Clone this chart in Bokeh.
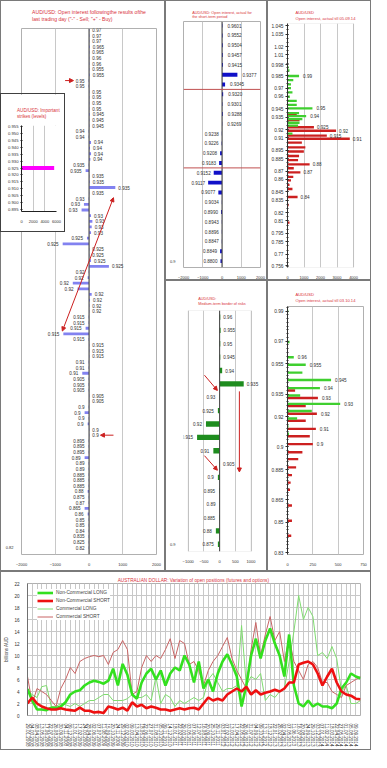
from bokeh.plotting import figure
from bokeh.layouts import column, row
from bokeh.models import (Range1d, FixedTicker, Span, Arrow, NormalHead, Legend, LegendItem,
                          BoxAnnotation)
from bokeh.core.properties import value
from bokeh.embed import file_html
from bokeh.resources import INLINE

# ---------------- data ----------------
# Left: open interest following the last trading day
left_strikes = ["0.97", "0.97", "0.97", "0.965", "0.965", "0.96", "0.96", "0.955", "0.955",
                "0.95", "0.95", "0.95", "0.95", "0.95", "0.95",
                "0.945", "0.945", "0.945",
                "0.94", "0.94", "0.94", "0.94", "0.94", "0.94",
                "0.935", "0.935", "0.935", "0.935", "0.935", "0.935",
                "0.93", "0.93", "0.93", "0.93", "0.93", "0.93", "0.93",
                "0.925", "0.925", "0.925", "0.925", "0.925", "0.925",
                "0.92", "0.92", "0.92", "0.92", "0.92", "0.92", "0.92", "0.92",
                "0.915", "0.915", "0.915", "0.915", "0.915", "0.915", "0.915", "0.915",
                "0.91", "0.91", "0.91",
                "0.905", "0.905", "0.905", "0.905", "0.905",
                "0.9", "0.9", "0.9", "0.9", "0.9", "0.9",
                "0.895", "0.895", "0.895", "0.89", "0.89", "0.89", "0.885", "0.885", "0.885",
                "0.88", "0.875", "0.87", "0.865", "0.86", "0.85", "0.85", "0.84", "0.835", "0.825", "0.82"]
left_oi = [10, 10, 10, 20, 10, 10, 10, 10, 20,
           -10, -10, 10, 10, 10, 10,
           20, 10, 10,
           -10, -10, 60, 30, 60, 40,
           -10, -100, 10, 20, 780, 10,
           -10, -150, -220, 60, 100, 80, 60,
           -60, -780, 10, 10, 60, 590,
           -10, -40, -480, -340, 80, 30, 10, 10,
           -10, -10, -100, -760, -10, 10, 10, 10,
           -10, -10, -200,
           -10, -10, -10, 10, 10,
           -10, -130, -10, -40, 10, 10,
           -10, -10, -10, -130, -10, -10, -10, -10, -10,
           -40, -10, -10, -130, -40, -10, -10, -10, -10, -10, -10]
left_x_ticks = [-2000, -1000, 0, 1000, 2000]
left_y_tick_label = "0.82"
# arrows: (x_start, y_start, x_end, y_end, double)
left_arrows = [(-790, 53.5, 725, 29.8, True), (-708, 9, -460, 9, False), (725, 72, 339, 72, False)]

# Inset: important strikes
inset_levels = [0.925]
inset_oi = [5600]
inset_y_ticks = [0.955, 0.950, 0.945, 0.940, 0.935, 0.930, 0.925, 0.920, 0.915, 0.910, 0.905, 0.900, 0.895]
inset_x_ticks = [0, 2000, 4000, 6000]

# Middle top: short-term period
mt_strikes = ["0.9601", "0.9552", "0.9504", "0.9457", "0.9415", "0.9377", "0.9345", "0.9320", "0.9301",
              "0.9288", "0.9269", "0.9238", "0.9226", "0.9208", "0.9183", "0.9152", "0.9117", "0.9077",
              "0.9034", "0.8990", "0.8943", "0.8896", "0.8847", "0.8849", "0.8800"]
mt_oi = [20, 30, 40, 40, 50, 800, 160, 60, 20, 40, 10, -10, -20, -100, -150, -430, -720, -190,
         -10, -50, -10, -10, -10, -100, -80]
mt_x_ticks = [-2000, -1000, 0, 1000, 2000]
mt_borders = [6.5, 14.5]

# Middle bottom: medium-term border of risks
mb_strikes = ["0.96", "0.955", "0.95", "0.945", "0.94", "0.935", "0.93", "0.925", "0.92", "0.915",
              "0.91", "0.905", "0.9", "0.895", "0.89", "0.885", "0.88", "0.875"]
mb_oi = [20, 30, 20, 20, 80, 766, -10, -56, -435, -718, -200, 10, -56, -15, -5, -15, -120, -56]
mb_x_ticks = [-1000, -500, 0, 500, 1000]
mb_arrows = [(-483, 4.35, -72, 5.49), (-483, 10.37, -72, 11.46), (628, 5.56, 628, 11.59)]

# Right top: open interest till 05.09.14
rt_call_level = [0.9949, 0.9911, 0.9845, 0.9795, 0.9745, 0.9699, 0.9649, 0.9595, 0.9545, 0.9498,
                 0.9456, 0.9398, 0.9363, 0.9325, 0.9282, 0.9248, 0.9151]
rt_call_oi = [70, 120, 700, 350, 210, 210, 300, 140, 560, 560, 1510, 700, 1130, 900, 730, 640, 300]
rt_call_text = {2: "0.99", 10: "0.95", 12: "0.94"}
rt_put_level = [0.9383, 0.9313, 0.9228, 0.9186, 0.9128, 0.9090, 0.9043, 0.8986, 0.8936, 0.8882,
                0.8832, 0.8782, 0.8735, 0.8685, 0.8631, 0.8589, 0.8535, 0.8485, 0.8389, 0.8292, 0.8080]
rt_put_oi = [560, 730, 1600, 2940, 2380, 3770, 870, 1080, 990, 700, 640, 1340, 380, 780, 350, 210,
             120, 300, 610, 70, 120]
rt_put_text = {2: "0.925", 3: "0.92", 4: "0.915", 5: "0.91", 11: "0.88", 13: "0.87", 18: "0.84"}
rt_y_ticks = [1.045, 1.035, 1.02, 1.01, 0.998, 0.985, 0.97, 0.96, 0.945, 0.935, 0.92, 0.91, 0.895,
              0.885, 0.87, 0.86, 0.845, 0.835, 0.82, 0.81, 0.795, 0.785, 0.77, 0.756]
rt_x_ticks = [0, 1000, 2000, 3000, 4000]

# Right bottom: open interest till 03.10.14
rb_call_level = [0.9900, 0.9695, 0.9594, 0.9544, 0.9492, 0.9443, 0.9389, 0.9340, 0.9285, 0.9238,
                 0.9188, 0.9136, 0.9087]
rb_call_oi = [8, 20, 62, 180, 147, 430, 320, 125, 520, 240, 95, 10, 15]
rb_call_text = {2: "0.96", 3: "0.955", 5: "0.945", 6: "0.94", 8: "0.93"}
rb_put_level = [0.9374, 0.9324, 0.9270, 0.9220, 0.9173, 0.9119, 0.9070, 0.9018, 0.8964, 0.8919,
                0.8864, 0.8813, 0.8763, 0.8716, 0.8612, 0.8511, 0.8411]
rb_put_oi = [75, 300, 180, 290, 180, 280, 220, 250, 147, 106, 85, 44, 31, 25, 44, 44, 37]
rb_put_text = {1: "0.93", 3: "0.92", 5: "0.91", 7: "0.9"}
rb_y_ticks = [0.99, 0.97, 0.955, 0.935, 0.92, 0.9, 0.885, 0.865, 0.85, 0.83]
rb_x_ticks = [0, 250, 500, 750]

# Bottom: variation of open positions (billions AUD)
dates = ["29.01.2008", "04.03.2008", "08.04.2008", "13.05.2008", "17.06.2008", "22.07.2008",
         "26.08.2008", "30.09.2008", "04.11.2008", "09.12.2008", "13.01.2009", "17.02.2009",
         "24.03.2009", "28.04.2009", "02.06.2009", "07.07.2009", "11.08.2009", "15.09.2009",
         "20.10.2009", "24.11.2009", "29.12.2009", "02.02.2010", "09.03.2010", "13.04.2010",
         "18.05.2010", "22.06.2010", "27.07.2010", "31.08.2010", "05.10.2010", "09.11.2010",
         "14.12.2010", "18.01.2011", "22.02.2011", "29.03.2011", "03.05.2011", "07.06.2011",
         "12.07.2011", "16.08.2011", "20.09.2011", "25.10.2011", "29.11.2011", "03.01.2012",
         "07.02.2012", "13.03.2012", "17.04.2012", "22.05.2012", "26.06.2012", "31.07.2012",
         "04.09.2012", "09.10.2012", "13.11.2012", "18.12.2012", "22.01.2013", "26.02.2013",
         "02.04.2013", "07.05.2013", "11.06.2013", "16.07.2013", "20.08.2013", "24.09.2013",
         "29.10.2013", "03.12.2013", "07.01.2014", "11.02.2014", "18.03.2014", "22.04.2014",
         "27.05.2014", "01.07.2014", "05.08.2014", "09.09.2014"]
week_pos = list(range(71))
nc_long = [4.4, 2.5, 1.0, 1.0, 0.9, 1.3, 1.2, 1.5, 2.2, 3.5, 4.0, 4.2, 5.0, 5.5, 5.8, 5.6, 5.3, 5.8,
           7.8, 5.0, 8.6, 6.8, 3.5, 2.8, 5.5, 7.0, 7.8, 6.0, 7.5, 5.0, 7.0, 8.0, 7.5, 10.0, 8.5, 5.5,
           9.0, 4.5, 6.0, 4.0, 7.0, 9.0, 10.2, 8.5, 6.5, 1.5, 5.0, 10.0, 12.8, 9.5, 12.5, 14.5, 12.0,
           10.0, 6.5, 13.5, 5.0, 2.0, 1.5, 2.5, 1.5, 2.0, 1.5, 1.5, 1.2, 2.0, 4.5, 5.5, 7.0, 6.5, 6.2]
nc_short = [2.0, 3.0, 2.0, 1.5, 1.2, 1.0, 1.0, 1.2, 1.0, 0.9, 0.8, 1.3, 0.8, 0.8, 0.5, 0.6, 0.4, 1.5,
            1.3, 1.0, 1.3, 0.8, 2.2, 1.5, 1.8, 1.2, 1.5, 1.3, 1.0, 1.0, 0.8, 1.0, 1.2, 1.0, 1.2, 1.3,
            1.0, 2.0, 3.0, 2.5, 2.8, 2.5, 3.5, 4.0, 4.5, 4.0, 4.8, 3.5, 4.2, 3.5, 3.8, 4.0, 4.3, 4.0,
            4.5, 5.5, 5.5, 8.5, 8.8, 9.0, 8.5, 7.0, 5.0, 6.5, 7.8, 5.5, 4.0, 3.5, 3.3, 2.8, 2.7]
c_long = [4.0, 3.5, 3.0, 4.8, 5.0, 1.5, 1.5, 2.0, 1.8, 1.5, 2.0, 1.5, 2.0, 2.5, 2.5, 3.0, 3.5, 3.5,
          2.5, 2.5, 2.5, 2.8, 3.5, 3.0, 3.0, 3.5, 2.5, 6.5, 2.0, 3.5, 3.0, 1.5, 2.5, 2.0, 2.5, 3.0,
          2.5, 3.0, 6.0, 7.0, 5.5, 4.0, 4.5, 4.5, 5.0, 15.0, 5.0, 6.5, 6.0, 7.0, 2.5, 3.5, 3.0, 4.0,
          4.5, 9.0, 14.0, 20.0, 16.0, 18.0, 16.5, 10.0, 10.5, 9.5, 11.5, 9.5, 4.0, 5.0, 2.0, 2.0, 2.5]
c_short = [6.5, 2.0, 4.5, 4.0, 3.5, 2.5, 1.5, 4.5, 6.0, 8.0, 7.0, 9.0, 9.5, 9.8, 10.0, 9.8, 10.0, 8.5,
           10.5, 11.0, 12.5, 11.0, 3.5, 4.0, 8.0, 10.0, 9.0, 10.0, 9.5, 11.0, 12.8, 9.5, 12.5, 12.0,
           8.5, 9.0, 7.5, 5.0, 7.5, 9.0, 10.0, 11.5, 13.0, 9.5, 7.5, 6.0, 4.5, 11.0, 15.5, 10.0, 13.5,
           16.5, 12.5, 14.0, 9.0, 13.0, 9.0, 7.5, 6.0, 8.5, 9.0, 8.0, 5.5, 5.5, 4.0, 3.5, 3.0, 5.0,
           5.5, 6.0, 6.5]
bottom_y_ticks = [0, 2, 4, 6, 8, 10, 12, 14, 16, 18, 20, 22]

# ---------------- style ----------------
SX = 371 / 387
SY = 750 / 768


def sx(v):
    return int(round(v * SX))


def sy(v):
    return int(round(v * SY))


FONT = "Liberation Sans"
TITLE_RED = "#d8323a"
TXT = "#303030"
GRID = "#c8c8c8"
FRAME = "#b0b0b0"
RED = "#cc2020"
GREEN = "#3fcf2f"


def make_fig(w, h, xr, yr, bl, br, bt, bb, title=None, tsize="4px", tstand=4, toff=0,
             border="1px solid #7a7a7a"):
    p = figure(width=w, height=h, x_range=xr, y_range=yr, output_backend="svg",
               toolbar_location=None, min_border_left=bl, min_border_right=br,
               min_border_top=bt, min_border_bottom=bb)
    p.outline_line_color = FRAME
    p.border_fill_color = "white"
    p.background_fill_color = "white"
    p.styles = {"border": border, "box-sizing": "border-box"}
    if title:
        p.title.text = title
        p.title.align = "center"
        p.title.text_font = FONT
        p.title.text_font_size = tsize
        p.title.text_font_style = "normal"
        p.title.text_color = TITLE_RED
        p.title.standoff = tstand
        p.title.offset = toff
        p.title.text_line_height = 1.2
    for ax in p.axis:
        ax.axis_line_color = None
        ax.major_tick_line_color = None
        ax.minor_tick_line_color = None
        ax.major_label_text_font = FONT
        ax.major_label_text_font_size = "4px"
        ax.major_label_text_color = TXT
        ax.major_label_standoff = 2
    p.xgrid.grid_line_color = GRID
    p.ygrid.grid_line_color = None
    return p


def frame_box(p, x0, x1):
    # visible plot-area border at the axis limits (frame itself is a little wider)
    p.outline_line_color = None
    p.add_layout(BoxAnnotation(left=x0, right=x1, fill_color=None, fill_alpha=0,
                               line_color=FRAME, line_width=1, level="underlay"))


def bar_labels(p, ys, vals, texts, pos_off, neg_off, size="4.6px"):
    pi = [i for i, v in enumerate(vals) if v >= 0]
    ni = [i for i, v in enumerate(vals) if v < 0]
    for idx, off, al in ((pi, pos_off, "left"), (ni, neg_off, "right")):
        if not idx:
            continue
        p.text(x=[vals[i] for i in idx], y=[ys[i] for i in idx], text=[texts[i] for i in idx],
               x_offset=off, text_align=al, text_baseline="middle", text_font=value(FONT),
               text_font_size=size, text_color=TXT)


def red_arrow(p, x0, y0, x1, y1, double=False):
    head = dict(size=4, fill_color=RED, line_color=RED, line_width=1)
    p.add_layout(Arrow(end=NormalHead(**head), start=NormalHead(**head) if double else None,
                       x_start=x0, y_start=y0, x_end=x1, y_end=y1, line_color=RED, line_width=1))


TOP_H = 571
BOT_H = 179
LW, MW, RW = 165, 102, 104
MT_H = sy(287)
MB_H = TOP_H - MT_H

# ---------------- left big chart ----------------
n_left = len(left_oi)
left_idx = list(range(n_left))
left = make_fig(LW, TOP_H, Range1d(-2000, 2000), Range1d(n_left + 0.2, -0.25),
                sx(18), sx(9), sy(28), sy(18),
                title='AUD/USD: Open interest followingthe results ofthe\nlast trading day ("-" - Sell; "+" - Buy)',
                tsize="5.1px", tstand=sy(12), toff=-sx(17))
left.xaxis.ticker = FixedTicker(ticks=left_x_ticks)
left.xgrid.ticker = FixedTicker(ticks=left_x_ticks)
left.yaxis.ticker = FixedTicker(ticks=[n_left - 1])
left.yaxis.major_label_overrides = {n_left - 1: left_y_tick_label}
left.hbar(y=left_idx, left=0, right=left_oi, height=0.5, fill_color="#8282f0", line_color=None)
left.add_layout(Span(location=0, dimension="height", line_color="#404040", line_width=1))
bar_labels(left, left_idx, left_oi, left_strikes, 3, -4)
for a in left_arrows:
    red_arrow(left, a[0], a[1], a[2], a[3], a[4])

# ---------------- inset ----------------
IW, IH = sx(68), sy(142)
inset = make_fig(IW, IH, Range1d(0, 6000), Range1d(0.8936, 0.9557), sx(20.7), sx(10.7), sy(32), sy(23),
                 title="AUD/USD:  Important\nstrikes (levels)", tsize="4.6px", tstand=sy(14),
                 toff=-sx(4), border="1px solid #404040")
inset.outline_line_color = None
inset.xaxis.ticker = FixedTicker(ticks=inset_x_ticks)
inset.xgrid.ticker = FixedTicker(ticks=inset_x_ticks)
inset.yaxis.ticker = FixedTicker(ticks=inset_y_ticks)
inset.yaxis.major_label_overrides = {t: "%.3f" % t for t in inset_y_ticks}
inset.yaxis.major_label_text_font_size = "4.2px"
inset.yaxis.axis_line_color = "#202020"
inset.xaxis.axis_line_color = "#202020"
inset.yaxis.major_tick_line_color = "#202020"
inset.yaxis.major_tick_out = 1
inset.yaxis.major_tick_in = 1
inset.hbar(y=inset_levels, left=0, right=inset_oi, height=0.0028, fill_color="#ff00ff", line_color=None)
top_off = sy(95)
inset.margin = (-(TOP_H - top_off), 0, TOP_H - top_off - IH, 0)

# ---------------- middle top ----------------
n_mt = len(mt_oi)
mt_idx = list(range(n_mt))
mt = make_fig(MW, MT_H, Range1d(-2000, 2000), Range1d(n_mt - 0.35, -0.42), sx(14.7), sx(8), sy(20), sy(12),
              title="AUD/USD: Open interest, actual for\nthe short-term period", tsize="3.8px",
              tstand=sy(4), toff=-sx(4))
mt.xaxis.ticker = FixedTicker(ticks=mt_x_ticks)
mt.xgrid.ticker = FixedTicker(ticks=mt_x_ticks)
mt.yaxis.ticker = FixedTicker(ticks=[n_mt - 1])
mt.yaxis.major_label_overrides = {n_mt - 1: "0.9"}
mt.hbar(y=mt_idx, left=0, right=mt_oi, height=0.4, fill_color="#1010c8", line_color=None)
mt.add_layout(Span(location=0, dimension="height", line_color="#404040", line_width=1))
for b in mt_borders:
    mt.add_layout(Span(location=b, dimension="width", line_color="#c05050", line_width=1))
bar_labels(mt, mt_idx, mt_oi, mt_strikes, 5, -3)

# ---------------- middle bottom ----------------
n_mb = len(mb_oi)
mb_idx = list(range(n_mb))
mb = make_fig(MW, MB_H, Range1d(-1150, 1300), Range1d(n_mb - 0.46, -0.49), 9, 0, sy(29.7), sy(22),
              title="AUD/USD:\nMedium-term border of risks", tsize="3.8px", tstand=sy(9), toff=sx(2))
frame_box(mb, -1000, 1000)
mb.xaxis.ticker = FixedTicker(ticks=mb_x_ticks)
mb.xgrid.ticker = FixedTicker(ticks=mb_x_ticks)
mb.yaxis.ticker = FixedTicker(ticks=[n_mb - 1])
mb.yaxis.major_label_overrides = {n_mb - 1: "0.9"}
mb.hbar(y=mb_idx, left=0, right=mb_oi, height=0.4, fill_color="#1e8c1e", line_color=None)
mb.add_layout(Span(location=0, dimension="height", line_color="#404040", line_width=1))
bar_labels(mb, mb_idx, mb_oi, mb_strikes, 3, -4)
for a in mb_arrows:
    red_arrow(mb, a[0], a[1], a[2], a[3])


# ---------------- right charts ----------------
def right_fig(h, xr, yr, bl, br, bt, bb, title, tstand, toff, yticks, minor):
    p = make_fig(RW, h, xr, yr, bl, br, bt, bb, title=title, tsize="4.1px", tstand=tstand, toff=toff)
    p.yaxis.ticker = FixedTicker(ticks=yticks, minor_ticks=minor)
    p.yaxis.major_label_overrides = {t: ("%g" % t) for t in yticks}
    p.yaxis.major_label_text_font_size = "4.8px"
    p.yaxis.axis_line_color = "#303030"
    p.yaxis.major_tick_line_color = "#303030"
    p.yaxis.minor_tick_line_color = "#303030"
    p.yaxis.major_tick_in = 1
    p.yaxis.major_tick_out = 2
    p.yaxis.minor_tick_in = 1
    p.yaxis.minor_tick_out = 1
    return p


rt_minor = [0.755 + 0.005 * k for k in range(59)]
rt = right_fig(MT_H, Range1d(0, 4600), Range1d(0.754, 1.0477), sx(19.7), 0, sy(22.7), sy(10.3),
               "AUD/USD\nOpen interest, actual till 05.09.14", sy(6), -sx(1.5), rt_y_ticks, rt_minor)
frame_box(rt, 0, 4000)
rt.xaxis.ticker = FixedTicker(ticks=rt_x_ticks)
rt.xgrid.ticker = FixedTicker(ticks=rt_x_ticks)
rt.hbar(y=rt_put_level, left=0, right=rt_put_oi, height=0.0028, fill_color=RED, line_color=None)
rt.hbar(y=rt_call_level, left=0, right=rt_call_oi, height=0.0028, fill_color=GREEN, line_color=None)
bar_labels(rt, [rt_call_level[i] for i in rt_call_text], [rt_call_oi[i] for i in rt_call_text],
           list(rt_call_text.values()), 4, -4)
bar_labels(rt, [rt_put_level[i] for i in rt_put_text], [rt_put_oi[i] for i in rt_put_text],
           list(rt_put_text.values()), 3, -4)

rb_minor = [0.83 + 0.0025 * k for k in range(66)]
rb = right_fig(MB_H, Range1d(0, 750), Range1d(0.8287, 0.993), sx(19.7), sx(9.5), sy(26), sy(18),
               "AUD/USD\nOpen interest, actual till 03.10.14", sy(7), sx(3), rb_y_ticks, rb_minor)
rb.xaxis.ticker = FixedTicker(ticks=rb_x_ticks)
rb.xgrid.ticker = FixedTicker(ticks=rb_x_ticks)
rb.hbar(y=rb_put_level, left=0, right=rb_put_oi, height=0.0016, fill_color=RED, line_color=None)
rb.hbar(y=rb_call_level, left=0, right=rb_call_oi, height=0.0016, fill_color=GREEN, line_color=None)
bar_labels(rb, [rb_call_level[i] for i in rb_call_text], [rb_call_oi[i] for i in rb_call_text],
           list(rb_call_text.values()), 4, -4)
bar_labels(rb, [rb_put_level[i] for i in rb_put_text], [rb_put_oi[i] for i in rb_put_text],
           list(rb_put_text.values()), 4, -4)

# ---------------- bottom line chart ----------------
bot = make_fig(371, BOT_H, Range1d(0, 70), Range1d(0, 22), sx(20.7), sx(12), sy(11.7), BOT_H - sy(11.7) - sy(135.6),
               title="AUSTRALIAN DOLLAR:  Variation of open positions (futures and options)",
               tsize="4.7px", tstand=2, toff=-3)
date_ticks = list(range(len(dates)))
bot.xaxis.ticker = FixedTicker(ticks=date_ticks)
bot.xgrid.ticker = FixedTicker(ticks=date_ticks)
bot.xaxis.major_label_overrides = {i: d for i, d in enumerate(dates)}
bot.xaxis.major_label_orientation = "vertical"
bot.xaxis.major_label_text_font_size = "4.6px"
bot.yaxis.ticker = FixedTicker(ticks=bottom_y_ticks)
bot.ygrid.ticker = FixedTicker(ticks=bottom_y_ticks)
bot.ygrid.grid_line_color = GRID
bot.yaxis.major_label_text_font_size = "4.6px"
bot.yaxis.axis_line_color = "#707070"
bot.yaxis.axis_label = "billions AUD"
bot.yaxis.axis_label_text_font = FONT
bot.yaxis.axis_label_text_font_size = "4.6px"
bot.yaxis.axis_label_text_font_style = "normal"
bot.yaxis.axis_label_standoff = 2
r_cl = bot.line(week_pos, c_long, line_color="#7fdc6f", line_width=1)
r_cs = bot.line(week_pos, c_short, line_color="#c86464", line_width=1)
r_nl = bot.line(week_pos, nc_long, line_color="#33e01f", line_width=2.6)
r_ns = bot.line(week_pos, nc_short, line_color="#ee1010", line_width=2.6)
legend = Legend(items=[LegendItem(label="Non-Commercial LONG", renderers=[r_nl]),
                       LegendItem(label="Non-Commercial SHORT", renderers=[r_ns]),
                       LegendItem(label="Commercial LONG", renderers=[r_cl]),
                       LegendItem(label="Commercial SHORT", renderers=[r_cs])],
                location=(10, 95), label_text_font=FONT, label_text_font_size="4.8px",
                glyph_width=16, glyph_height=7, label_height=7, spacing=1, padding=3,
                label_standoff=3, border_line_color=None, background_fill_alpha=1.0)
bot.add_layout(legend)

layout = column(
    row(column(left, inset), column(mt, mb), column(rt, rb)),
    bot,
)

open("out.html", "w").write(file_html(layout, INLINE))
